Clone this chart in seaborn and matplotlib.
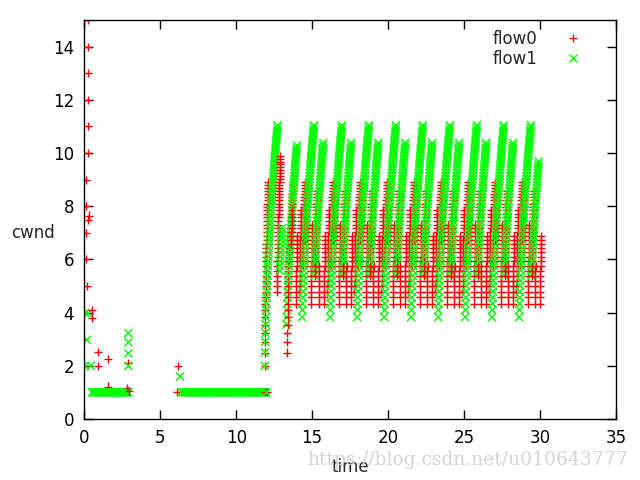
import matplotlib
matplotlib.use("Agg")
import matplotlib.pyplot as plt
import numpy as np
import pandas as pd
import seaborn as sns

# ---------------- data ----------------
# cwnd levels that the samples sit on (rows seen in the picture)
levels = [2.0, 2.5, 2.9, 3.24, 3.55, 3.83, 4.1, 4.34, 4.57, 4.79,
          5.0, 5.2, 5.39, 5.58, 5.76, 5.93, 6.1, 6.26, 6.42, 6.58,
          6.73, 6.88, 7.02, 7.17, 7.31, 7.44, 7.58, 7.71, 7.84, 7.97,
          8.09, 8.22, 8.34, 8.46, 8.58, 8.69, 8.81, 8.92, 9.03, 9.14,
          9.25, 9.36, 9.47, 9.57, 9.68, 9.78, 9.88, 9.99, 10.09, 10.18,
          10.28, 10.38, 10.48, 10.57, 10.67, 10.76, 10.85, 10.95, 11.04]

# time offsets of successive samples inside a green stripe (s)
ack_dt = [0.0, 0.015, 0.029, 0.044, 0.058, 0.073, 0.088, 0.102, 0.117, 0.131,
          0.146, 0.161, 0.175, 0.190, 0.204, 0.219, 0.234, 0.248, 0.263, 0.277,
          0.292, 0.307, 0.321, 0.336, 0.350, 0.365, 0.380, 0.394, 0.409, 0.423,
          0.438, 0.453, 0.467, 0.482, 0.496, 0.511, 0.526, 0.540, 0.555, 0.569,
          0.584, 0.599, 0.613, 0.628, 0.642, 0.657, 0.672, 0.686, 0.701, 0.715,
          0.730, 0.745, 0.759, 0.774, 0.788, 0.803, 0.818, 0.832, 0.847]
# time offsets of successive samples inside a red column (s)
col_dt = [0.0, 0.006, 0.012, 0.018, 0.024, 0.030, 0.036, 0.042, 0.048, 0.054,
          0.060, 0.066, 0.072, 0.078, 0.084, 0.090, 0.096, 0.102, 0.108, 0.114,
          0.120, 0.126, 0.132, 0.138, 0.144, 0.150, 0.156, 0.162, 0.168, 0.174,
          0.180, 0.186, 0.192, 0.198, 0.204, 0.210, 0.216, 0.222, 0.228, 0.234]

# flow0 isolated early samples
red_early_t = [0.0, 0.0, 0.0, 0.15, 0.11, 0.11, 0.11, 0.11, 0.22, 0.22,
               0.22, 0.22, 0.22, 0.26, 0.26, 0.33, 0.48, 0.53, 0.92, 0.92,
               1.58, 1.58, 2.90, 2.79, 2.94, 6.18, 6.12, 11.88, 12.0]
red_early_y = [2.0, 3.0, 4.0, 5.0, 6.0, 7.0, 8.0, 9.0, 10.0, 11.0,
               12.0, 13.0, 14.0, 15.0, 7.5, 7.65, 4.08, 3.79, 2.51, 2.0,
               2.26, 1.22, 2.1, 1.15, 1.05, 2.0, 1.0, 1.0, 1.03]
# flow0 columns during the start-up (start time, first level, last level)
red_tr_t = [11.88, 12.68, 13.36, 13.62]
red_tr_lo = [0, 9, 1, 19]
red_tr_hi = [37, 46, 18, 37]
# flow0 steady sawtooth: column offsets relative to each period mark
red_period = [15.11, 16.95, 18.73, 20.51, 22.28, 24.06, 25.84, 27.61, 29.39, 31.17]
red_col_off = [-1.51, -1.18, -0.95, -0.72, -0.56, -0.20, 0.07]
red_col_lo = [7, 7, 9, 14, 20, 7, 12]
red_col_hi = [14, 21, 28, 37, 36, 24, 34]
red_first, red_last = 13.9, 30.02

# flow1 isolated early samples
green_early_t = [0.05, 0.26, 0.16, 0.05, 0.42, 2.90, 2.90, 2.90, 2.90, 6.30]
green_early_y = [3.98, 3.98, 2.98, 2.0, 2.0, 2.0, 2.47, 2.89, 3.23, 1.6]
# flow1 cwnd = 1 runs
green_run1_t = [0.5, 0.6, 0.7, 0.8, 0.9, 1.0, 1.1, 1.2, 1.3, 1.4, 1.5, 1.6, 1.7,
                1.8, 1.9, 2.0, 2.1, 2.2, 2.3, 2.4, 2.5, 2.6, 2.7, 2.8, 2.9]
green_run2_t = [6.4, 6.5, 6.6, 6.7, 6.8, 6.9, 7.0, 7.1, 7.2, 7.3, 7.4, 7.5, 7.6,
                7.7, 7.8, 7.9, 8.0, 8.1, 8.2, 8.3, 8.4, 8.5, 8.6, 8.7, 8.8, 8.9,
                9.0, 9.1, 9.2, 9.3, 9.4, 9.5, 9.6, 9.7, 9.8, 9.9, 10.0, 10.1,
                10.2, 10.3, 10.4, 10.5, 10.6, 10.7, 10.8, 10.9, 11.0, 11.1,
                11.2, 11.3, 11.4, 11.5, 11.6, 11.7, 11.8, 11.9, 12.0]
# flow1 start-up stripes
green_tr_t = [11.88, 12.86, 13.32]
green_tr_lo = [0, 13, 4]
green_tr_hi = [58, 23, 50]
# flow1 steady stripes (A: tall, B: shorter)
green_A_t = [14.34, 16.18, 17.96, 19.74, 21.51, 23.29, 25.07, 26.84, 28.62]
green_A_lo, green_A_hi = 5, 58
green_B_t = [15.16, 17.00, 18.78, 20.56, 22.33, 24.11, 25.89, 27.66, 29.44]
green_B_lo = 12
green_B_hi = [51, 51, 51, 51, 51, 51, 51, 51, 44]

# ---------------- assemble ----------------
def stripe(start, lo, hi, offs, tt, yy):
    for j, k in enumerate(range(lo, hi + 1)):
        tt.append(start + offs[j % len(offs)])
        yy.append(levels[k])

rt, ry = [], []
rt += red_early_t; ry += red_early_y
for s, lo, hi in zip(red_tr_t, red_tr_lo, red_tr_hi):
    stripe(s, lo, hi, col_dt, rt, ry)
for T in red_period:
    for off, lo, hi in zip(red_col_off, red_col_lo, red_col_hi):
        s = T + off
        if red_first <= s <= red_last:
            stripe(s, lo, hi, col_dt, rt, ry)

gt, gy = [], []
gt += green_early_t; gy += green_early_y
gt += green_run1_t; gy += [1.0] * len(green_run1_t)
gt += green_run2_t; gy += [1.0] * len(green_run2_t)
for s, lo, hi in zip(green_tr_t, green_tr_lo, green_tr_hi):
    stripe(s, lo, hi, ack_dt, gt, gy)
for s in green_A_t:
    stripe(s, green_A_lo, green_A_hi, ack_dt, gt, gy)
for s, hi in zip(green_B_t, green_B_hi):
    stripe(s, green_B_lo, hi, ack_dt, gt, gy)

# samples drawn in time order, so the two flows overlap each other in turn
df = pd.concat([
    pd.DataFrame({"time": rt, "cwnd": ry, "flow": "flow0"}),
    pd.DataFrame({"time": gt, "cwnd": gy, "flow": "flow1"}),
], ignore_index=True).sort_values("time", kind="stable")

# ---------------- plot ----------------
sns.set_style("ticks")
plt.rcParams["font.family"] = ["DejaVu Sans"]

fig = plt.figure(figsize=(6.4, 4.8), dpi=100)
ax = fig.add_axes([84.3 / 640, 1 - 419 / 480, 531.7 / 640, 399 / 480])

sns.scatterplot(data=df, x="time", y="cwnd", hue="flow", style="flow",
                hue_order=["flow0", "flow1"], style_order=["flow0", "flow1"],
                palette={"flow0": "#ff0000", "flow1": "#00ff00"},
                markers={"flow0": "+", "flow1": "x"},
                s=34, linewidth=1.0, ax=ax, legend=True)

ax.set_xlim(0, 35)
ax.set_ylim(0, 15)
ax.set_xticks(range(0, 36, 5))
ax.set_yticks(range(0, 15, 2))
ax.tick_params(direction="in", length=6.5, width=1, top=True, right=True,
               labelsize=12, colors="black")
ax.tick_params(axis="x", pad=7)
ax.tick_params(axis="y", pad=7.5)
for sp in ax.spines.values():
    sp.set_visible(True)
    sp.set_linewidth(1.0)
    sp.set_color("black")

ax.set_xlabel("time", fontsize=12)
ax.set_ylabel("cwnd", fontsize=12, rotation=0)
ax.xaxis.set_label_coords(0.5, -0.12)
ax.yaxis.set_label_coords(-0.097, 0.466)
ax.xaxis.label.set_va("center")
ax.yaxis.label.set_va("center")
ax.yaxis.label.set_ha("center")

handles, labels = ax.get_legend_handles_labels()
ax.legend(handles, labels, loc="upper right",
          bbox_to_anchor=(581 / 640, 1 - 29.5 / 480),
          bbox_transform=fig.transFigure, frameon=False, markerfirst=False,
          fontsize=12, borderpad=0, borderaxespad=0, handlelength=1.0,
          handletextpad=1.6, labelspacing=0.14)

fig.text(628 / 640, 1 - 460 / 480, "https://blog.csdn.net/u010643777",
         ha="right", va="center", color="#d4d4d4", fontsize=13.5,
         family="DejaVu Serif", zorder=0)

fig.savefig("out.png", dpi=100)
